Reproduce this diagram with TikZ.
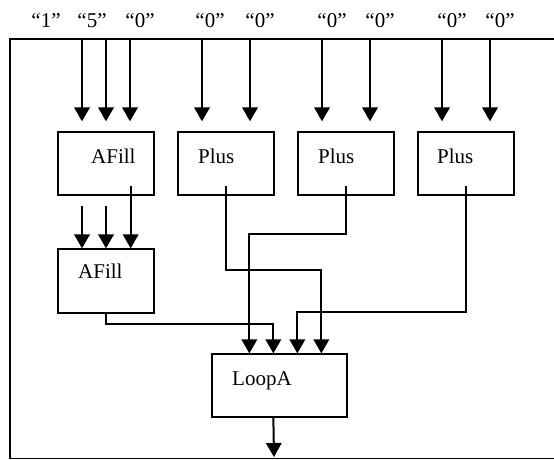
\documentclass[tikz,border=0pt]{standalone}
\usepackage{fontspec}
\setmainfont{Liberation Serif}
\usetikzlibrary{arrows.meta,calc}
\tikzset{
  blk/.style={draw, line width=1.3pt, inner sep=0pt, minimum width=96pt, minimum height=63pt},
  lbl/.style={anchor=base west, inner sep=0pt, font=\fontsize{21}{25}\selectfont},
  inlbl/.style={anchor=base, inner sep=0pt, font=\fontsize{21}{25}\selectfont},
  wire/.style={line width=2pt},
  arr/.style={wire, -{Triangle[width=15.5pt,length=14pt]}},
}
\begin{document}
\begin{tikzpicture}[x=1pt,y=-1pt]
\useasboundingbox (0,0) rectangle (554,459);
\clip (0,0) rectangle (554,459);
% outer frame
\draw[line width=1.4pt] (10,39) rectangle (600,458.6);

% blocks
\node[blk] (afA) at (106,163.5) {};
\node[blk] (plA) at (226,163.5) {};
\node[blk] (plB) at (346,163.5) {};
\node[blk] (plC) at (466,163.5) {};
\node[blk, minimum height=64pt] (afB) at (106,281) {};
\node[blk, minimum width=135pt] (loop) at (279.5,385.5) {};

% block titles
\node[lbl] (tafA) at (91,163) {AFill};
\node[lbl] (tplA) at (198,163) {Plus};
\node[lbl] (tplB) at (318,163) {Plus};
\node[lbl] (tplC) at (437,163) {Plus};
\node[lbl] (tafB) at (78,278) {AFill};
\node[lbl] (tloop) at (232,385) {LoopA};

% constant inputs
\node[inlbl] (c1) at (46,27) {“1”};
\node[inlbl] (c2) at (92,27) {“5”};
\node[inlbl] (c3) at (140,27) {“0”};
\node[inlbl] (c4) at (210,27) {“0”};
\node[inlbl] (c5) at (260,27) {“0”};
\node[inlbl] (c6) at (332,27) {“0”};
\node[inlbl] (c7) at (380,27) {“0”};
\node[inlbl] (c8) at (452,27) {“0”};
\node[inlbl] (c9) at (500,27) {“0”};

% input wires from the frame edge
\coordinate (i1) at (82,39);
\coordinate (i2) at (106,39);
\coordinate (i3) at (130,39);
\coordinate (i4) at (202,39);
\coordinate (i5) at (250,39);
\coordinate (i6) at (322,39);
\coordinate (i7) at (370,39);
\coordinate (i8) at (442,39);
\coordinate (i9) at (490,39);
\foreach \p/\b in {i1/afA,i2/afA,i3/afA,i4/plA,i5/plA,i6/plB,i7/plB,i8/plC,i9/plC}
  \draw[arr, shorten >=10pt] (\p) -- (\p |- \b.north);

% AFill -> AFill
\coordinate (s1) at (82,206);
\coordinate (s2) at (106,206);
\draw[arr] (s1) -- (s1 |- afB.north);
\draw[arr] (s2) -- (s2 |- afB.north);
\coordinate (o1) at ($(afA.south east)+(-24,-9.5)$);
\draw[arr] (o1) -- (o1 |- afB.north);

% outputs into LoopA
\draw[arr] ($(plA.south)+(0,-9.5)$) -- ++(0,84) -| ($(loop.north west)+(110,0)$);
\draw[arr] ($(plB.south)+(0,-9.5)$) -- ++(0,48) -| ($(loop.north west)+(38,0)$);
\draw[arr] ($(plC.south)+(0,-9.5)$) -- ++(0,126) -| ($(loop.north west)+(86,0)$);
\draw[arr] (afB.south) -- ++(0,10) -| ($(loop.north west)+(62,0)$);

% LoopA output
\coordinate (out) at (274,457);
\draw[arr] ($(loop.south west)+(62,0)$) -- (out);
\end{tikzpicture}
\end{document}
